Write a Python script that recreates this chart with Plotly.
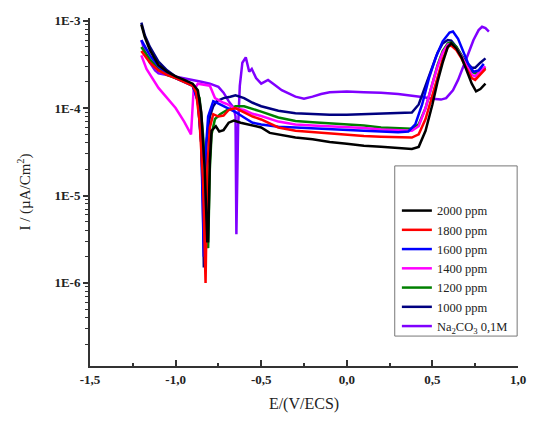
import plotly.graph_objects as go

# ---------------- data ----------------
x_2000 = [-1.20, -1.18, -1.15, -1.10, -1.05, -1.00, -0.95, -0.90, -0.87, -0.85, -0.83, -0.815, -0.81, -0.80,
          -0.79, -0.765, -0.745, -0.72, -0.69, -0.66, -0.62, -0.55, -0.50, -0.45, -0.40, -0.30, -0.20, -0.10,
          0.00, 0.10, 0.20, 0.30, 0.38, 0.42, 0.46, 0.50, 0.53, 0.56, 0.59, 0.61, 0.64, 0.67, 0.70, 0.73,
          0.755, 0.78, 0.81]
y_2000 = [9.0e-4, 6.5e-4, 4.6e-4, 3.1e-4, 2.6e-4, 2.3e-4, 2.1e-4, 1.9e-4, 1.6e-4, 9e-5, 2e-5, 3e-6, 3e-6, 2.5e-5,
          5.5e-5, 6.2e-5, 5.4e-5, 5.6e-5, 6.8e-5, 7.2e-5, 6.8e-5, 6.3e-5, 6.0e-5, 5.2e-5, 5.0e-5, 4.6e-5, 4.4e-5,
          4.1e-5, 3.9e-5, 3.7e-5, 3.6e-5, 3.5e-5, 3.4e-5, 3.6e-5, 5.5e-5, 1.1e-4, 2.0e-4, 3.3e-4, 5.0e-4, 5.5e-4,
          4.8e-4, 3.8e-4, 2.7e-4, 1.9e-4, 1.55e-4, 1.65e-4, 1.9e-4]

x_1800 = [-1.20, -1.15, -1.10, -1.05, -1.00, -0.95, -0.90, -0.88, -0.86, -0.84, -0.825, -0.815, -0.80, -0.78,
          -0.75, -0.72, -0.69, -0.65, -0.60, -0.55, -0.50, -0.40, -0.30, -0.20, -0.10, 0.00, 0.10, 0.20, 0.30,
          0.38, 0.42, 0.46, 0.50, 0.53, 0.56, 0.59, 0.61, 0.64, 0.67, 0.70, 0.73, 0.75, 0.78, 0.81]
y_1800 = [4.5e-4, 3.3e-4, 2.7e-4, 2.4e-4, 2.2e-4, 2.0e-4, 1.8e-4, 1.5e-4, 7e-5, 1.5e-5, 1.0e-6, 2e-5, 6e-5, 8.5e-5,
          8.0e-5, 8.2e-5, 9.5e-5, 1.0e-4, 9.0e-5, 8.0e-5, 7.4e-5, 6.0e-5, 5.5e-5, 5.3e-5, 5.1e-5, 5.0e-5, 4.8e-5,
          4.7e-5, 4.6e-5, 4.6e-5, 5.0e-5, 7.5e-5, 1.4e-4, 2.3e-4, 3.6e-4, 5.0e-4, 5.2e-4, 4.6e-4, 3.7e-4, 2.8e-4,
          2.2e-4, 2.1e-4, 2.4e-4, 2.8e-4]

x_1600 = [-1.20, -1.15, -1.10, -1.05, -1.00, -0.95, -0.90, -0.87, -0.85, -0.835, -0.825, -0.81, -0.78, -0.74,
          -0.70, -0.65, -0.60, -0.55, -0.50, -0.40, -0.30, -0.20, -0.10, 0.00, 0.10, 0.20, 0.30, 0.36, 0.40,
          0.44, 0.48, 0.52, 0.56, 0.60, 0.62, 0.65, 0.68, 0.71, 0.74, 0.77, 0.80]
y_1600 = [6.0e-4, 4.0e-4, 3.0e-4, 2.5e-4, 2.2e-4, 2.0e-4, 1.8e-4, 1.2e-4, 4e-5, 2e-6, 3e-5, 8e-5, 1.2e-4, 1.1e-4,
          1.0e-4, 9e-5, 7.8e-5, 6.8e-5, 6.5e-5, 6.1e-5, 6.0e-5, 5.9e-5, 5.8e-5, 5.7e-5, 5.5e-5, 5.4e-5, 5.3e-5,
          5.4e-5, 6.5e-5, 1.1e-4, 2.2e-4, 3.8e-4, 5.8e-4, 7.3e-4, 7.5e-4, 6.2e-4, 4.5e-4, 3.2e-4, 2.6e-4, 2.7e-4,
          3.2e-4]

x_1400 = [-1.20, -1.17, -1.10, -1.00, -0.95, -0.91, -0.895, -0.87, -0.80, -0.77, -0.72, -0.695, -0.66, -0.60,
          -0.55, -0.50, -0.40, -0.30, -0.20, -0.10, 0.00, 0.10, 0.20, 0.30, 0.38, 0.42, 0.46, 0.50, 0.53, 0.56,
          0.59, 0.61, 0.64, 0.67, 0.70, 0.73, 0.75, 0.78, 0.81]
y_1400 = [4.0e-4, 2.8e-4, 1.7e-4, 1.0e-4, 7e-5, 5e-5, 1.6e-4, 1.9e-4, 1.8e-4, 1.3e-4, 1.15e-4, 1.1e-4, 1.0e-4,
          9.5e-5, 8.6e-5, 8.1e-5, 7.0e-5, 6.5e-5, 6.3e-5, 6.2e-5, 6.1e-5, 5.9e-5, 5.7e-5, 5.6e-5, 5.5e-5, 6.2e-5,
          1.0e-4, 1.9e-4, 3.0e-4, 4.3e-4, 5.3e-4, 5.4e-4, 4.8e-4, 3.9e-4, 3.0e-4, 2.4e-4, 2.3e-4, 2.6e-4, 3.0e-4]

x_1200 = [-1.20, -1.15, -1.10, -1.05, -1.00, -0.95, -0.90, -0.86, -0.84, -0.82, -0.81, -0.80, -0.79, -0.77,
          -0.74, -0.70, -0.65, -0.60, -0.55, -0.50, -0.40, -0.30, -0.20, -0.10, 0.00, 0.10, 0.20, 0.30, 0.38,
          0.42, 0.46, 0.50, 0.53, 0.56, 0.59, 0.61, 0.64, 0.67, 0.70, 0.73, 0.75, 0.78, 0.81]
y_1200 = [5.0e-4, 3.6e-4, 2.8e-4, 2.4e-4, 2.2e-4, 2.0e-4, 1.85e-4, 1.3e-4, 5e-5, 1e-5, 2.5e-6, 2e-5, 5e-5, 7.5e-5,
          8.5e-5, 9.5e-5, 1.05e-4, 1.05e-4, 9.8e-5, 9.1e-5, 7.8e-5, 7.1e-5, 6.9e-5, 6.7e-5, 6.5e-5, 6.3e-5, 6.0e-5,
          5.9e-5, 5.8e-5, 6.5e-5, 1.0e-4, 1.9e-4, 3.1e-4, 4.5e-4, 5.5e-4, 5.6e-4, 5.0e-4, 4.0e-4, 3.1e-4, 2.6e-4,
          2.5e-4, 2.7e-4, 2.9e-4]

x_1000 = [-1.20, -1.18, -1.15, -1.10, -1.05, -1.00, -0.95, -0.90, -0.87, -0.85, -0.84, -0.835, -0.83, -0.82,
          -0.80, -0.78, -0.76, -0.72, -0.68, -0.65, -0.60, -0.55, -0.50, -0.45, -0.40, -0.30, -0.20, -0.10, 0.00,
          0.10, 0.20, 0.30, 0.38, 0.42, 0.46, 0.50, 0.53, 0.56, 0.59, 0.61, 0.64, 0.67, 0.70, 0.73, 0.75, 0.78,
          0.81]
y_1000 = [9.5e-4, 6.8e-4, 5.0e-4, 3.4e-4, 2.7e-4, 2.3e-4, 2.05e-4, 1.8e-4, 1.2e-4, 4e-5, 8e-6, 1.5e-6, 1e-5, 4e-5,
          8e-5, 1.05e-4, 1.2e-4, 1.3e-4, 1.35e-4, 1.4e-4, 1.3e-4, 1.15e-4, 1.05e-4, 9.8e-5, 9.3e-5, 8.7e-5, 8.5e-5,
          8.4e-5, 8.4e-5, 8.5e-5, 8.6e-5, 8.7e-5, 8.9e-5, 1.1e-4, 1.8e-4, 3.0e-4, 4.3e-4, 5.5e-4, 6.0e-4, 5.9e-4,
          5.0e-4, 4.0e-4, 3.3e-4, 2.9e-4, 2.9e-4, 3.3e-4, 3.7e-4]

x_na2co3 = [-1.20, -1.18, -1.15, -1.12, -1.10, -1.05, -1.00, -0.95, -0.90, -0.85, -0.80, -0.75, -0.72, -0.69,
            -0.66, -0.65, -0.645, -0.635, -0.625, -0.61, -0.59, -0.57, -0.555, -0.53, -0.50, -0.46, -0.43, -0.38,
            -0.30, -0.25, -0.20, -0.15, -0.10, 0.00, 0.10, 0.20, 0.30, 0.40, 0.45, 0.50, 0.55, 0.58, 0.62, 0.65,
            0.68, 0.71, 0.74, 0.77, 0.79, 0.81, 0.83]
y_na2co3 = [6.0e-4, 4.5e-4, 3.3e-4, 2.7e-4, 2.5e-4, 2.4e-4, 2.3e-4, 2.2e-4, 2.1e-4, 2.0e-4, 1.9e-4, 1.75e-4, 1.5e-4,
            1.2e-4, 1.0e-4, 8e-5, 3.6e-6, 6e-5, 1.8e-4, 3.3e-4, 3.8e-4, 2.6e-4, 2.8e-4, 2.2e-4, 1.9e-4, 2.1e-4,
            1.9e-4, 1.6e-4, 1.35e-4, 1.28e-4, 1.35e-4, 1.45e-4, 1.52e-4, 1.55e-4, 1.52e-4, 1.5e-4, 1.45e-4,
            1.38e-4, 1.33e-4, 1.28e-4, 1.25e-4, 1.3e-4, 1.6e-4, 2.1e-4, 2.9e-4, 4.2e-4, 6.0e-4, 7.8e-4, 8.5e-4,
            8.2e-4, 7.5e-4]

series_names = ["2000 ppm", "1800 ppm", "1600 ppm", "1400 ppm", "1200 ppm", "1000 ppm",
                "Na<sub>2</sub>CO<sub>3</sub> 0,1M"]
series_x = [x_2000, x_1800, x_1600, x_1400, x_1200, x_1000, x_na2co3]
series_y = [y_2000, y_1800, y_1600, y_1400, y_1200, y_1000, y_na2co3]
series_colors = ["#000000", "#ff0000", "#0000ff", "#ff00ff", "#008000", "#000080", "#8000ff"]

x_tickvals = [-1.5, -1.0, -0.5, 0.0, 0.5, 1.0]
x_ticktext = ["-1,5", "-1,0", "-0,5", "0,0", "0,5", "1,0"]
y_tickvals = [1e-6, 1e-5, 1e-4, 1e-3]
y_ticktext = ["1E-6", "1E-5", "1E-4", "1E-3"]

# ---------------- figure ----------------
FONT = "Liberation Serif"
fig = go.Figure()

order = [6, 5, 4, 3, 2, 1, 0]
for i in order:
    fig.add_trace(go.Scatter(
        x=series_x[i], y=series_y[i], mode="lines", name=series_names[i],
        line=dict(color=series_colors[i], width=2.5), legendrank=i + 1,
    ))

y_minor = [m * 10.0 ** e for e in range(-7, -2) for m in range(2, 10)]
x_minor = [-1.25, -0.75, -0.25, 0.25, 0.75]

# the page body has an 8px default margin, so the figure is sized to fit inside the window
fig.update_layout(
    width=526, height=405,
    margin=dict(l=82, r=16, t=10, b=47),
    paper_bgcolor="white", plot_bgcolor="white",
    font=dict(family=FONT, color="#222222"),
    showlegend=True,
    legend=dict(
        x=0.717, y=0.072, xanchor="left", yanchor="bottom",
        bgcolor="rgba(0,0,0,0)", borderwidth=0,
        font=dict(family=FONT, size=12.5, color="#222222"),
        tracegroupgap=0, itemwidth=30,
    ),
    shapes=[dict(type="rect", xref="paper", yref="paper",
                 x0=0.712, x1=0.998, y0=0.086, y1=0.575,
                 line=dict(color="#777777", width=1), fillcolor="rgba(0,0,0,0)", layer="below")],
)

fig.update_xaxes(
    range=[-1.5, 1.0], tickmode="array", tickvals=x_tickvals, ticktext=x_ticktext, automargin=False,
    ticklabeloverflow="allow",
    ticks="inside", ticklen=6, tickwidth=1.5, tickcolor="#333333",
    minor=dict(tickmode="array", tickvals=x_minor, ticks="inside", ticklen=3, tickwidth=1.5, tickcolor="#333333"),
    showline=True, linecolor="#333333", linewidth=2, showgrid=False, zeroline=False,
    tickfont=dict(family=FONT, size=13, color="#222222", weight="bold"),
    title=dict(text="E/(V/ECS)", font=dict(family=FONT, size=16, color="#222222"), standoff=16),
)
fig.update_yaxes(
    type="log", range=[-6.95, -2.97], tickmode="array", tickvals=y_tickvals, ticktext=y_ticktext, automargin=False,
    ticks="outside", ticklen=5, tickwidth=1.5, tickcolor="#333333",
    minor=dict(tickmode="array", tickvals=y_minor, ticks="outside", ticklen=3, tickwidth=1, tickcolor="#333333"),
    showline=True, linecolor="#333333", linewidth=2, showgrid=False, zeroline=False,
    tickfont=dict(family=FONT, size=13, color="#222222", weight="bold"),
    title=dict(text="I / (µA/Cm<sup>2</sup>)", font=dict(family=FONT, size=15, color="#222222"), standoff=20),
)

fig.write_html("out.html")
